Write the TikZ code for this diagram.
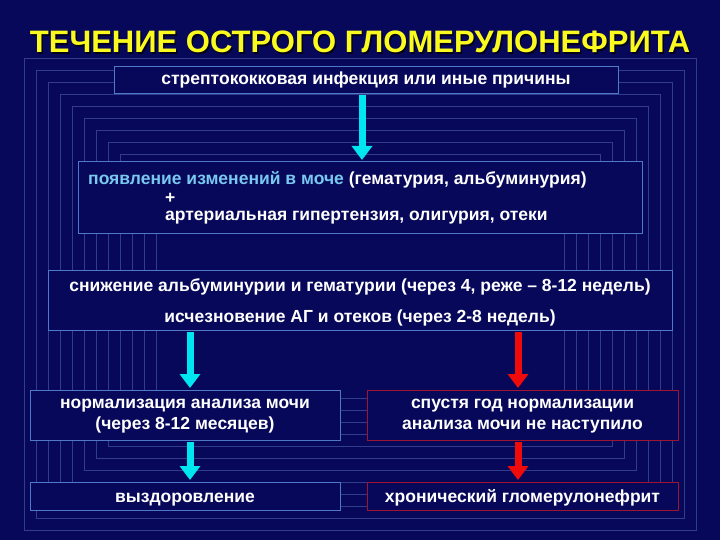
\documentclass[tikz,border=0pt]{standalone}
\usepackage{fontspec}
\setmainfont{Liberation Sans}
\usetikzlibrary{arrows.meta}
\definecolor{bg}{RGB}{8,8,90}
\definecolor{grid}{RGB}{50,60,140}
\definecolor{bluebd}{RGB}{80,120,200}
\definecolor{redbd}{RGB}{160,20,50}
\definecolor{ttl}{RGB}{250,250,30}
\definecolor{lcyan}{RGB}{120,200,240}
\definecolor{arcy}{RGB}{0,230,240}
\definecolor{arred}{RGB}{240,10,10}
\tikzset{
  box/.style={draw=bluebd, line width=1pt, minimum height=#1, inner sep=0pt},
  rbox/.style={draw=redbd, line width=1pt, minimum height=#1, inner sep=0pt},
  txt/.style={text=white, font=\bfseries\fontsize{17.5}{21}\selectfont, inner sep=0pt},
  cyarrow/.style={draw=arcy, line width=7pt, -{Triangle[width=20pt,length=14pt]}, shorten <=1.5pt, shorten >=1.5pt},
  rdarrow/.style={draw=arred, line width=7pt, -{Triangle[width=20pt,length=14pt]}, shorten <=1.5pt, shorten >=1.5pt},
}
\begin{document}
\begin{tikzpicture}[x=1pt,y=-1pt]
\fill[bg] (0,0) rectangle (720,540);
\useasboundingbox (0,0) rectangle (720,540);
\foreach \i in {0,...,11}{
  \draw[grid, line width=0.5pt] (24+\i*12,58+\i*12) rectangle (696-\i*12,530-\i*12);
}
\node[text=black!70!bg, font=\bfseries\fontsize{31}{34}\selectfont] (shadow) at (361.5,43.5) {ТЕЧЕНИЕ ОСТРОГО ГЛОМЕРУЛОНЕФРИТА};
\node[text=ttl, font=\bfseries\fontsize{31}{34}\selectfont] (title) at (360,42) {ТЕЧЕНИЕ ОСТРОГО ГЛОМЕРУЛОНЕФРИТА};

\node[box=27pt, minimum width=504pt, fill=bg] (b1) at (366,80) {};
\node[txt] (t1) at (366,80) {стрептококковая инфекция или иные причины};

\node[box=71pt, minimum width=564pt, fill=bg] (b2) at (360,197.5) {};
\node[txt, anchor=west] (t2a) at (88,180) {\textcolor{lcyan}{появление изменений в моче} (гематурия, альбуминурия)};
\node[txt, anchor=west] (t2b) at (165,198) {+};
\node[txt, anchor=west] (t2c) at (165,218) {артериальная гипертензия, олигурия, отеки};

\node[box=60pt, minimum width=624pt, fill=bg] (b3) at (360,300) {};
\node[txt] (t3a) at (360,287) {снижение альбуминурии и гематурии (через 4, реже – 8-12 недель)};
\node[txt] (t3b) at (360,318) {исчезновение АГ и отеков (через 2-8 недель)};

\node[box=50pt, minimum width=310pt, fill=bg] (b4l) at (185,415) {};
\node[txt, align=center] (t4l) at (185,416) {нормализация анализа мочи\\(через 8-12 месяцев)};
\node[rbox=50pt, minimum width=311pt, fill=bg] (b4r) at (522.5,415) {};
\node[txt, align=center] (t4r) at (522.5,416) {спустя год нормализации\\анализа мочи не наступило};

\node[box=28pt, minimum width=310pt, fill=bg] (b5l) at (185,496) {};
\node[txt, anchor=base] (t5l) at (185,502) {выздоровление};
\node[rbox=28pt, minimum width=311pt, fill=bg] (b5r) at (522.5,496) {};
\node[txt, anchor=base] (t5r) at (522.5,502) {хронический гломерулонефрит};

\draw[cyarrow] (b1.south -| 362,0) -- (b2.north -| 362,0);
\draw[cyarrow] (b3.south -| 190,0) -- (b4l.north -| 190,0);
\draw[cyarrow] (b4l.south -| 190,0) -- (b5l.north -| 190,0);
\draw[rdarrow] (b3.south -| 518,0) -- (b4r.north -| 518,0);
\draw[rdarrow] (b4r.south -| 518,0) -- (b5r.north -| 518,0);
\end{tikzpicture}
\end{document}
